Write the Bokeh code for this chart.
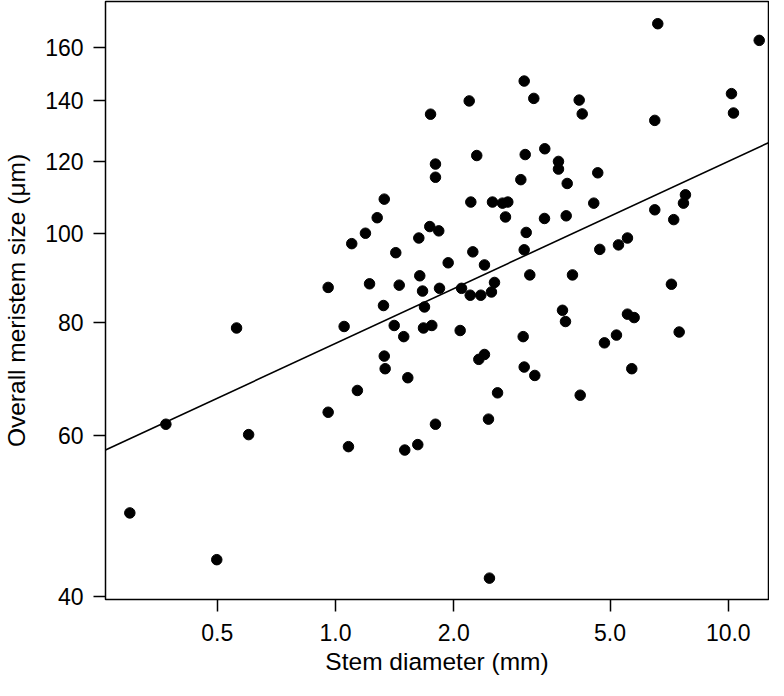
from bokeh.plotting import figure
from bokeh.models import Range1d, FixedTicker, PrintfTickFormatter
from bokeh.embed import file_html
from bokeh.resources import INLINE

# Stem diameter (mm)
stem_diameter = [
    1.746, 1.797, 1.797, 1.331, 1.277, 1.192, 1.100, 1.738, 1.832, 1.630,
    1.424, 1.936, 0.958, 1.221, 1.453, 1.639, 1.666, 1.840, 1.325, 1.685,
    0.560, 1.052, 1.411, 1.675, 1.759, 1.492,
    1.331, 1.338, 1.528, 1.137, 0.958, 0.370, 1.797, 0.601, 1.079, 1.501,
    1.620, 0.2995, 0.4986,
    6.615, 11.99, 3.023, 2.190, 3.198, 4.173, 4.248, 10.19, 10.31, 6.500,
    2.289, 3.041, 3.411, 3.696, 3.696, 4.653, 2.964, 3.890, 2.211, 2.510,
    2.662, 2.746, 2.709, 4.545, 7.780, 7.690, 6.500, 7.263, 3.405, 3.867,
    3.059, 3.023, 2.237, 2.395, 4.708, 5.254, 5.538, 3.124, 4.012, 7.166,
    2.094, 2.203, 2.344, 2.495, 2.540, 3.784, 3.851, 5.538, 5.760, 2.077,
    3.005, 5.192, 4.839, 7.499,
    2.317, 2.395, 3.023, 3.217, 5.680, 2.586, 4.198, 2.452, 2.466,
]
# Overall meristem size (um)
meristem_size = [
    135.2, 119.2, 115.3, 109.1, 104.1, 100.1, 97.5, 101.8, 100.7, 98.9,
    95.3, 92.9, 87.3, 88.1, 87.8, 89.9, 86.5, 87.1, 83.4, 83.1,
    78.8, 79.1, 79.3, 78.8, 79.3, 77.1,
    73.4, 71.1, 69.5, 67.3, 63.7, 61.8, 61.8, 60.2, 58.4, 57.9,
    58.7, 49.4, 43.9,
    169.9, 162.9, 147.0, 139.8, 140.7, 140.1, 135.3, 142.4, 135.6, 133.1,
    121.8, 122.1, 123.9, 120.0, 117.7, 116.6, 114.6, 113.5, 108.3, 108.3,
    108.0, 108.3, 104.3, 108.0, 110.3, 108.0, 106.2, 103.6, 103.9, 104.6,
    100.3, 96.0, 95.5, 92.4, 96.1, 97.2, 98.9, 90.1, 90.1, 88.0,
    87.1, 85.6, 85.6, 86.3, 88.4, 82.4, 80.1, 81.6, 80.9, 78.3,
    77.1, 77.4, 75.9, 78.0,
    72.8, 73.7, 71.4, 69.9, 71.1, 66.9, 66.5, 62.6, 41.9,
]
# fitted regression line (endpoints)
fit_x = [0.2597, 12.66]
fit_y = [57.9, 125.8]

x_ticks = [0.5, 1, 2, 5, 10]
y_ticks = [40, 60, 80, 100, 120, 140, 160]

FONT = "Liberation Sans"

p = figure(
    width=768, height=680,
    frame_width=663, frame_height=598,
    x_axis_type="log", y_axis_type="log",
    x_range=Range1d(0.2597, 12.66), y_range=Range1d(39.7, 179.7),
    output_backend="svg", toolbar_location=None,
    min_border_left=104, min_border_right=1, min_border_top=1, min_border_bottom=81,
    background_fill_color="white", border_fill_color="white",
)
p.grid.visible = False
p.outline_line_color = "black"
p.outline_line_width = 1.5
p.outline_line_alpha = 1.0

p.line(fit_x, fit_y, line_color="black", line_width=1.6)
p.scatter(stem_diameter, meristem_size, size=10.5, fill_color="black", line_color="black")

p.xaxis.ticker = FixedTicker(ticks=x_ticks, minor_ticks=[])
p.yaxis.ticker = FixedTicker(ticks=y_ticks, minor_ticks=[])
p.xaxis.formatter = PrintfTickFormatter(format="%.1f")
p.yaxis.formatter = PrintfTickFormatter(format="%d")

for ax in (p.xaxis[0], p.yaxis[0]):
    ax.axis_line_color = None
    ax.major_tick_line_color = "black"
    ax.major_tick_line_width = 1.5
    ax.major_tick_out = 12
    ax.major_tick_in = 0
    ax.minor_tick_line_color = None
    ax.major_label_text_font = FONT
    ax.major_label_text_font_size = "23px"
    ax.major_label_text_color = "black"
    ax.axis_label_text_font = FONT
    ax.axis_label_text_font_size = "24.5px"
    ax.axis_label_text_font_style = "normal"
    ax.axis_label_text_color = "black"

p.xaxis.axis_label = "Stem diameter (mm)"
p.yaxis.axis_label = "Overall meristem size (μm)"
p.xaxis.major_label_standoff = 12
p.yaxis.major_label_standoff = 10
p.xaxis.axis_label_standoff = 4
p.yaxis.axis_label_standoff = 12

open("out.html", "w").write(file_html(p, INLINE))
